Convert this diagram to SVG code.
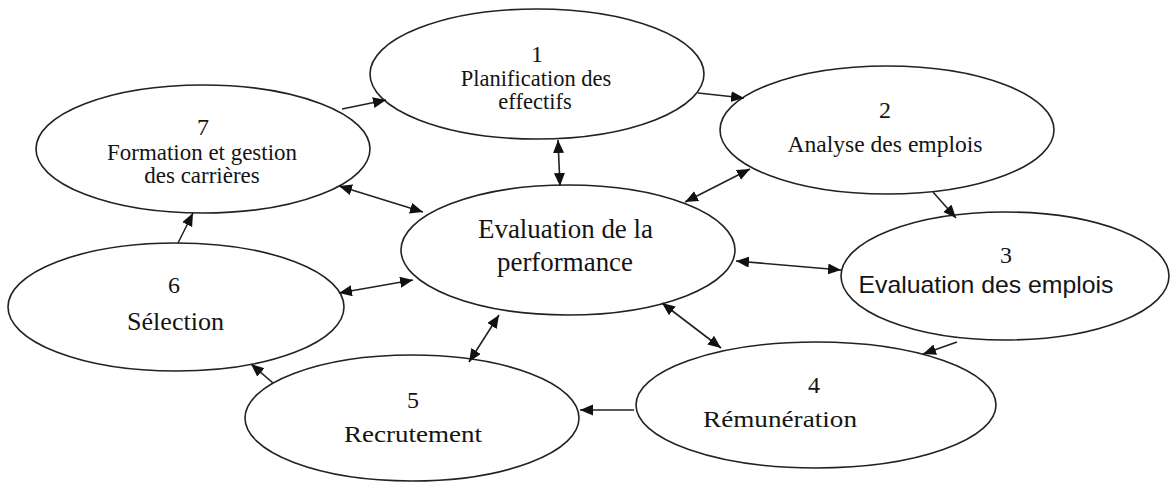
<svg xmlns="http://www.w3.org/2000/svg" width="1171" height="482" viewBox="0 0 1171 482">
<style>
.node ellipse{fill:#fff;stroke:#222;stroke-width:1.6}
text{font-family:"Liberation Serif","Times New Roman",serif;fill:#141414;text-anchor:middle}
.sans{font-family:"Liberation Sans",Arial,sans-serif}
#connectors line{stroke:#222;stroke-width:1.6}
.uni{marker-end:url(#ah)}
.bi{marker-start:url(#ah);marker-end:url(#ah)}
</style>
<defs>
<marker id="ah" markerUnits="userSpaceOnUse" markerWidth="14" markerHeight="12" refX="13" refY="5.5" orient="auto-start-reverse">
<path d="M0,0 L13,5.5 L0,11 z" fill="#111"/>
</marker>
</defs>
<rect width="1171" height="482" fill="#fff"/>
<g id="n1" class="node">
<ellipse cx="537" cy="74" rx="167" ry="65"/>
<text x="537" y="62" font-size="24">1</text>
<text x="536" y="86" font-size="22.5">Planification des</text>
<text x="535" y="109" font-size="22.5">effectifs</text>
</g>
<g id="n2" class="node">
<ellipse cx="887" cy="130" rx="167" ry="64"/>
<text x="885" y="118" font-size="24">2</text>
<text x="885" y="152" font-size="23.5" textLength="195" lengthAdjust="spacingAndGlyphs">Analyse des emplois</text>
</g>
<g id="n3" class="node">
<ellipse cx="1005" cy="276" rx="164" ry="64"/>
<text x="1006" y="263" font-size="24">3</text>
<text class="sans" x="986" y="293" font-size="24" textLength="255" lengthAdjust="spacingAndGlyphs">Evaluation des emplois</text>
</g>
<g id="n4" class="node">
<ellipse cx="816" cy="405" rx="180" ry="63"/>
<text x="814" y="393" font-size="24">4</text>
<text x="780" y="427" font-size="23.5" textLength="154" lengthAdjust="spacingAndGlyphs">Rémunération</text>
</g>
<g id="n5" class="node">
<ellipse cx="412" cy="418" rx="167" ry="63"/>
<text x="413" y="408" font-size="24">5</text>
<text x="413" y="442" font-size="23.5" textLength="138" lengthAdjust="spacingAndGlyphs">Recrutement</text>
</g>
<g id="n6" class="node">
<ellipse cx="176" cy="307" rx="168" ry="64"/>
<text x="174" y="293" font-size="24">6</text>
<text x="175.5" y="330" font-size="25.5" textLength="97" lengthAdjust="spacingAndGlyphs">Sélection</text>
</g>
<g id="n7" class="node">
<ellipse cx="203" cy="149" rx="167" ry="64"/>
<text x="203" y="135" font-size="24">7</text>
<text x="202" y="160" font-size="23" textLength="190" lengthAdjust="spacingAndGlyphs">Formation et gestion</text>
<text x="202" y="183" font-size="23">des carrières</text>
</g>
<g id="center" class="node">
<ellipse cx="568" cy="250" rx="167" ry="65"/>
<text x="565.5" y="238" font-size="27.5" textLength="175" lengthAdjust="spacingAndGlyphs">Evaluation de la</text>
<text x="565" y="271" font-size="27.5" textLength="136" lengthAdjust="spacingAndGlyphs">performance</text>
</g>
<g id="connectors">
<line class="uni" x1="342" y1="109" x2="386" y2="100"/>
<line class="uni" x1="698" y1="93" x2="744" y2="98"/>
<line class="uni" x1="933" y1="192" x2="956" y2="218"/>
<line class="uni" x1="957" y1="342" x2="923" y2="354"/>
<line class="uni" x1="634" y1="410" x2="580" y2="410"/>
<line class="uni" x1="273" y1="383" x2="251" y2="364"/>
<line class="uni" x1="178" y1="243" x2="193" y2="213"/>
<line class="bi" x1="558" y1="140" x2="560" y2="186"/>
<line class="bi" x1="750" y1="169" x2="685" y2="202"/>
<line class="bi" x1="736" y1="261" x2="841" y2="270"/>
<line class="bi" x1="662" y1="303" x2="721" y2="348"/>
<line class="bi" x1="499" y1="315" x2="469" y2="362"/>
<line class="bi" x1="339" y1="293" x2="413" y2="280"/>
<line class="bi" x1="339" y1="186" x2="423" y2="212"/>
</g>
</svg>
